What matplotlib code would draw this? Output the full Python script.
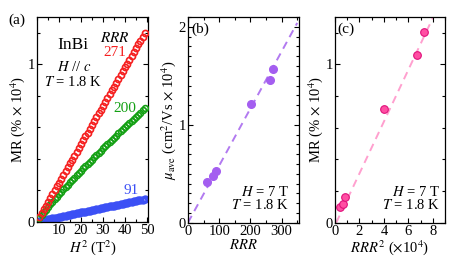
import matplotlib
matplotlib.use("Agg")
import matplotlib.pyplot as plt
from matplotlib.ticker import MultipleLocator

plt.rcParams["font.family"] = ["Liberation Serif", "DejaVu Serif"]
plt.rcParams["mathtext.fontset"] = "stix"
plt.rcParams["font.size"] = 10.5

# (a) MR vs H^2 for three samples
H2 = [1, 2, 3, 4, 5, 6, 7, 8, 9, 10, 11, 12, 13, 14, 15, 16, 17, 18, 19, 20,
      21, 22, 23, 24, 25, 26, 27, 28, 29, 30, 31, 32, 33, 34, 35, 36, 37, 38,
      39, 40, 41, 42, 43, 44, 45, 46, 47, 48, 49]
mr_271 = [0.030, 0.054, 0.079, 0.103, 0.128, 0.152, 0.176, 0.201, 0.225, 0.249,
          0.274, 0.298, 0.323, 0.347, 0.371, 0.396, 0.420, 0.444, 0.469, 0.493,
          0.518, 0.542, 0.566, 0.591, 0.615, 0.639, 0.664, 0.688, 0.713, 0.737,
          0.761, 0.786, 0.810, 0.834, 0.859, 0.883, 0.908, 0.932, 0.956, 0.981,
          1.005, 1.029, 1.054, 1.078, 1.103, 1.127, 1.151, 1.176, 1.200]
mr_200 = [0.023, 0.042, 0.061, 0.078, 0.095, 0.112, 0.128, 0.145, 0.160, 0.176,
          0.192, 0.207, 0.222, 0.237, 0.252, 0.266, 0.281, 0.296, 0.310, 0.325,
          0.339, 0.353, 0.367, 0.382, 0.396, 0.410, 0.424, 0.438, 0.452, 0.466,
          0.480, 0.493, 0.507, 0.520, 0.534, 0.547, 0.561, 0.574, 0.588, 0.601,
          0.614, 0.627, 0.641, 0.654, 0.667, 0.680, 0.693, 0.707, 0.720]
mr_91 = [0.005, 0.008, 0.011, 0.014, 0.017, 0.020, 0.023, 0.025, 0.028, 0.031,
         0.034, 0.037, 0.040, 0.043, 0.046, 0.049, 0.052, 0.055, 0.058, 0.060,
         0.063, 0.066, 0.069, 0.072, 0.075, 0.078, 0.081, 0.084, 0.087, 0.090,
         0.093, 0.095, 0.098, 0.101, 0.104, 0.107, 0.110, 0.113, 0.116, 0.119,
         0.122, 0.125, 0.128, 0.130, 0.133, 0.136, 0.139, 0.142, 0.145]

# (b) mobility vs RRR
rrr = [60, 80, 90, 201, 262, 273]
mu_ave = [0.42, 0.475, 0.53, 1.21, 1.455, 1.565]
fit_b_x = [0, 350]
fit_b_y = [0.0, 2.04]

# (c) MR at 7 T vs RRR^2
rrr2 = [0.40, 0.67, 0.80, 3.98, 6.70, 7.30]
mr_7t = [0.097, 0.12, 0.16, 0.72, 1.057, 1.207]
fit_c_x = [0.1, 8.1]
fit_c_y = [0.0, 1.31]

fig = plt.figure(figsize=(4.64, 2.62), dpi=100)
ax1 = fig.add_axes([0.080, 0.153, 0.239, 0.782])
ax2 = fig.add_axes([0.405, 0.150, 0.239, 0.785])
ax3 = fig.add_axes([0.722, 0.150, 0.237, 0.785])

for ax in (ax1, ax2, ax3):
    ax.tick_params(which="both", direction="in", top=True, right=True,
                   width=0.8, labelsize=10.5, pad=1.5)
    ax.tick_params(which="major", length=3.5)
    ax.tick_params(which="minor", length=2.5)
    for s in ax.spines.values():
        s.set_linewidth(0.9)

# panel (a)
ax1.plot(H2, mr_91, "o", ms=4.2, mfc="none", mec="#3c50f5", mew=1.8, zorder=2)
ax1.plot(H2, mr_200, "o", ms=4.2, mfc="none", mec="#13a013", mew=1.2, zorder=3)
ax1.plot(H2, mr_271, "o", ms=4.4, mfc="none", mec="#f52020", mew=1.2, zorder=4)
ax1.set_xlim(0, 50.5)
ax1.set_ylim(0, 1.3)
ax1.set_xticks([10, 20, 30, 40, 50])
ax1.xaxis.set_minor_locator(MultipleLocator(5))
ax1.set_yticks([0, 1])
ax1.yaxis.set_minor_locator(MultipleLocator(0.2))
ax1.set_xlabel("$H^2$ (T$^2$)", labelpad=0.5)
ax1.set_ylabel("MR (% $\\times$ 10$^4$)", labelpad=0.5)
ax1.text(16.4, 1.12, "InBi", fontsize=12.5, ha="center", va="center")
ax1.text(16.8, 0.98, "$H$ // $c$", fontsize=10.5, ha="center", va="center")
ax1.text(16.4, 0.886, "$T$ = 1.8 K", fontsize=10.5, ha="center", va="center")
ax1.text(35.5, 1.17, "$RRR$", fontsize=11, ha="center", va="center")
ax1.text(35.5, 1.076, "271", color="#f52020", fontsize=11, ha="center", va="center")
ax1.text(40.0, 0.72, "200", color="#13a013", fontsize=11, ha="center", va="center")
ax1.text(42.8, 0.20, "91", color="#3c50f5", fontsize=11, ha="center", va="center")
fig.text(0.037, 0.924, "(a)", fontsize=11, ha="center", va="center")

# panel (b)
ax2.plot(fit_b_x, fit_b_y, "--", color="#b27af0", lw=1.4, dashes=(4, 2.8), zorder=1)
ax2.plot(rrr, mu_ave, "o", ms=5.5, color="#a45ef0", mec="#a45ef0", zorder=2)
ax2.set_xlim(0, 355)
ax2.set_ylim(0, 2.1)
ax2.set_xticks([0, 100, 200, 300])
ax2.xaxis.set_minor_locator(MultipleLocator(50))
ax2.set_yticks([0, 1, 2])
ax2.yaxis.set_minor_locator(MultipleLocator(0.1))
ax2.set_xlabel("$RRR$", labelpad=0.5)
ax2.set_ylabel("$\\mu_{\\rm ave}$ (cm$^2$/Vs $\\times$ 10$^4$)", labelpad=0.5)
ax2.text(0.11, 0.975, "(b)", transform=ax2.transAxes, fontsize=11,
         ha="center", va="top")
ax2.text(0.91, 0.15, "$H$ = 7 T", transform=ax2.transAxes, fontsize=10.5,
         ha="right", va="center")
ax2.text(0.91, 0.087, "$T$ = 1.8 K", transform=ax2.transAxes, fontsize=10.5,
         ha="right", va="center")

# panel (c)
ax3.plot(fit_c_x, fit_c_y, "--", color="#ffa0cf", lw=1.4, dashes=(4, 2.8), zorder=1)
ax3.plot(rrr2, mr_7t, "o", ms=5.5, color="#ff4fa3", mec="#e0107a", mew=0.8, zorder=2)
ax3.set_xlim(0, 9)
ax3.set_ylim(0, 1.3)
ax3.set_xticks([0, 2, 4, 6, 8])
ax3.xaxis.set_minor_locator(MultipleLocator(1))
ax3.set_yticks([0, 1])
ax3.yaxis.set_minor_locator(MultipleLocator(0.2))
ax3.set_xlabel("$RRR^2$ ($\\times$10$^4$)", labelpad=0.5)
ax3.set_ylabel("MR (% $\\times$ 10$^4$)", labelpad=0.5)
ax3.text(0.10, 0.975, "(c)", transform=ax3.transAxes, fontsize=11,
         ha="center", va="top")
ax3.text(0.955, 0.15, "$H$ = 7 T", transform=ax3.transAxes, fontsize=10.5,
         ha="right", va="center")
ax3.text(0.955, 0.087, "$T$ = 1.8 K", transform=ax3.transAxes, fontsize=10.5,
         ha="right", va="center")

fig.savefig("out.png", dpi=100)
